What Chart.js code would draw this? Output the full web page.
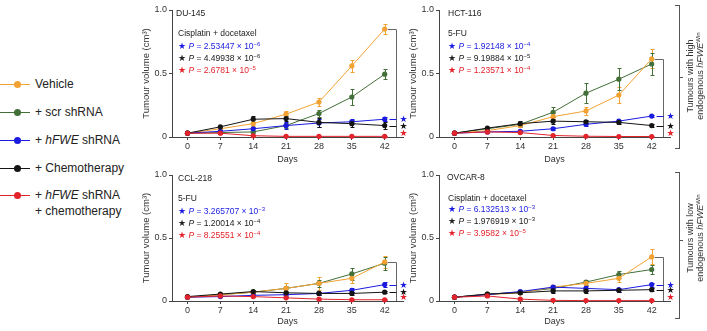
<!DOCTYPE html>
<html lang="en">
<head>
  <meta charset="UTF-8" />
  <title>Tumour volume</title>
  <script src="https://cdn.jsdelivr.net/npm/chart.js"></script>
  <style>
    html, body { margin: 0; padding: 0; background: #fff; }
    body { font-family: 'Liberation Sans', Arial, sans-serif; color: #222; }
    #wrap { position: relative; width: 707px; height: 331px; overflow: hidden; }
    canvas { position: absolute; }
    .leg { position: absolute; left: 35px; font-size: 12px; line-height: 16px; white-space: nowrap; }
    .sw { position: absolute; left: -35px; top: 8px; width: 30px; height: 1px; }
    .sw::after { content: ''; position: absolute; left: 14px; top: -3px; width: 7px; height: 7px; border-radius: 50%; background: inherit; }
    .t { position: absolute; font-size: 8.5px; line-height: 10px; white-space: nowrap; color: #222; }
    .t sup { font-size: 6px; vertical-align: 3px; line-height: 0; }
    .blue { color: #1b1be0; }
    .red { color: #e2232b; }
    .brk { position: absolute; left: 675px; width: 4px; border: 1px solid #555; border-left: none; }
    .tick { position: absolute; left: 680px; width: 3px; height: 1px; background: #555; }
    .side { position: absolute; width: 120px; font-size: 9px; line-height: 10px; text-align: center; color: #333; transform: rotate(-90deg); }
    .side sup { font-size: 6px; vertical-align: 3px; line-height: 0; }
  </style>
</head>
<body>
<div id="wrap">
  <canvas id="c1" width="270" height="165" style="left:140px;top:0"></canvas>
  <canvas id="c2" width="270" height="165" style="left:407px;top:0"></canvas>
  <canvas id="c3" width="270" height="162" style="left:140px;top:165px"></canvas>
  <canvas id="c4" width="270" height="162" style="left:407px;top:165px"></canvas>

  <!-- legende -->
  <div class="leg" style="top:76px"><span class="sw" style="background:#f2a233"></span>Vehicle</div>
  <div class="leg" style="top:104px"><span class="sw" style="background:#436f38"></span>+ scr shRNA</div>
  <div class="leg" style="top:132px"><span class="sw" style="background:#1b1be0"></span>+ <i>hFWE</i> shRNA</div>
  <div class="leg" style="top:160px"><span class="sw" style="background:#141414"></span>+ Chemotherapy</div>
  <div class="leg" style="top:187px"><span class="sw" style="background:#e2232b"></span>+ <i>hFWE</i> shRNA<br>+ chemotherapy</div>

  <!-- DU-145 -->
  <div class="t" style="left:176px;top:8px">DU-145</div>
  <div class="t" style="left:178px;top:28px">Cisplatin + docetaxel</div>
  <div class="t blue" style="left:178px;top:41px">★ <i>P</i> = 2.53447 × 10<sup>−6</sup></div>
  <div class="t" style="left:178px;top:53px">★ <i>P</i> = 4.49938 × 10<sup>−6</sup></div>
  <div class="t red" style="left:178px;top:65px">★ <i>P</i> = 2.6781 × 10<sup>−5</sup></div>

  <!-- HCT-116 -->
  <div class="t" style="left:448px;top:8px">HCT-116</div>
  <div class="t" style="left:448px;top:28px">5-FU</div>
  <div class="t blue" style="left:448px;top:41px">★ <i>P</i> = 1.92148 × 10<sup>−4</sup></div>
  <div class="t" style="left:448px;top:53px">★ <i>P</i> = 9.19884 × 10<sup>−5</sup></div>
  <div class="t red" style="left:448px;top:65px">★ <i>P</i> = 1.23571 × 10<sup>−4</sup></div>

  <!-- CCL-218 -->
  <div class="t" style="left:178px;top:173px">CCL-218</div>
  <div class="t" style="left:178px;top:193px">5-FU</div>
  <div class="t blue" style="left:178px;top:206px">★ <i>P</i> = 3.265707 × 10<sup>−3</sup></div>
  <div class="t" style="left:178px;top:218px">★ <i>P</i> = 1.20014 × 10<sup>−4</sup></div>
  <div class="t red" style="left:178px;top:230px">★ <i>P</i> = 8.25551 × 10<sup>−4</sup></div>

  <!-- OVCAR-8 -->
  <div class="t" style="left:447px;top:172px">OVCAR-8</div>
  <div class="t" style="left:448px;top:193px">Cisplatin + docetaxel</div>
  <div class="t blue" style="left:448px;top:204px">★ <i>P</i> = 6.132513 × 10<sup>−3</sup></div>
  <div class="t" style="left:448px;top:216px">★ <i>P</i> = 1.976919 × 10<sup>−3</sup></div>
  <div class="t red" style="left:448px;top:228px">★ <i>P</i> = 3.9582 × 10<sup>−5</sup></div>

  <!-- accolades a droite -->
  <div class="brk" style="top:5px;height:142px"></div>
  <div class="tick" style="top:77px"></div>
  <div class="side" style="left:635px;top:66px">Tumours with high<br>endogenous <i>hFWE</i><sup>Win</sup></div>
  <div class="brk" style="top:172px;height:145px"></div>
  <div class="tick" style="top:240px"></div>
  <div class="side" style="left:635px;top:228px">Tumours with low<br>endogenous <i>hFWE</i><sup>Win</sup></div>
</div>

<script>
  const days = [0, 7, 14, 21, 28, 35, 42];
  const seriesNames = ['Vehicle', '+ scr shRNA', '+ hFWE shRNA', '+ Chemotherapy', '+ hFWE shRNA + chemotherapy'];
  const colors = ['#f2a233', '#436f38', '#1b1be0', '#141414', '#e2232b'];
  const yTicks = [0, 0.5, 1.0];

  // DU-145
  const du145Vehicle = [0.03, 0.065, 0.105, 0.18, 0.275, 0.56, 0.85];
  const du145Scr     = [0.03, 0.035, 0.04, 0.09, 0.185, 0.315, 0.495];
  const du145Shrna   = [0.03, 0.045, 0.065, 0.09, 0.11, 0.12, 0.14];
  const du145Chemo   = [0.03, 0.08, 0.14, 0.145, 0.115, 0.105, 0.09];
  const du145Combo   = [0.03, 0.03, 0.01, 0.005, 0.005, 0.005, 0.005];
  const du145VehicleErr = [0.005, 0.01, 0.015, 0.025, 0.03, 0.045, 0.04];
  const du145ScrErr     = [0.005, 0.01, 0.01, 0.02, 0.03, 0.065, 0.04];
  const du145ShrnaErr   = [0.005, 0.01, 0.015, 0.03, 0.03, 0.02, 0.015];
  const du145ChemoErr   = [0.005, 0.01, 0.025, 0.02, 0.035, 0.03, 0.025];
  const du145ComboErr   = [0.005, 0.01, 0.005, 0.003, 0.003, 0.003, 0.003];

  // HCT-116
  const hctVehicle = [0.03, 0.05, 0.09, 0.16, 0.205, 0.33, 0.615];
  const hctScr     = [0.03, 0.065, 0.1, 0.195, 0.345, 0.455, 0.575];
  const hctShrna   = [0.03, 0.04, 0.045, 0.065, 0.1, 0.125, 0.165];
  const hctChemo   = [0.03, 0.07, 0.105, 0.125, 0.12, 0.115, 0.09];
  const hctCombo   = [0.03, 0.04, 0.035, 0.012, 0.006, 0.004, 0.004];
  const hctVehicleErr = [0.005, 0.01, 0.015, 0.03, 0.03, 0.06, 0.075];
  const hctScrErr     = [0.005, 0.01, 0.02, 0.04, 0.08, 0.085, 0.09];
  const hctShrnaErr   = [0.005, 0.005, 0.01, 0.01, 0.01, 0.01, 0.01];
  const hctChemoErr   = [0.005, 0.01, 0.02, 0.02, 0.015, 0.015, 0.015];
  const hctComboErr   = [0.005, 0.005, 0.005, 0.003, 0.003, 0.003, 0.003];

  // CCL-218
  const cclVehicle = [0.03, 0.05, 0.07, 0.1, 0.14, 0.18, 0.31];
  const cclScr     = [0.03, 0.05, 0.07, 0.1, 0.14, 0.215, 0.3];
  const cclShrna   = [0.03, 0.035, 0.045, 0.05, 0.06, 0.085, 0.13];
  const cclChemo   = [0.035, 0.055, 0.075, 0.065, 0.06, 0.06, 0.07];
  const cclCombo   = [0.03, 0.04, 0.035, 0.025, 0.015, 0.01, 0.01];
  const cclVehicleErr = [0.005, 0.01, 0.01, 0.045, 0.05, 0.04, 0.045];
  const cclScrErr     = [0.005, 0.01, 0.01, 0.02, 0.03, 0.045, 0.05];
  const cclShrnaErr   = [0.005, 0.005, 0.01, 0.01, 0.01, 0.015, 0.02];
  const cclChemoErr   = [0.005, 0.01, 0.01, 0.01, 0.01, 0.01, 0.01];
  const cclComboErr   = [0.005, 0.005, 0.005, 0.005, 0.005, 0.003, 0.003];

  // OVCAR-8
  const ovcVehicle = [0.03, 0.05, 0.065, 0.11, 0.14, 0.18, 0.35];
  const ovcScr     = [0.03, 0.055, 0.07, 0.1, 0.15, 0.21, 0.25];
  const ovcShrna   = [0.03, 0.05, 0.075, 0.11, 0.1, 0.09, 0.13];
  const ovcChemo   = [0.03, 0.055, 0.065, 0.08, 0.08, 0.085, 0.09];
  const ovcCombo   = [0.03, 0.04, 0.015, 0.005, 0.003, 0.003, 0.003];
  const ovcVehicleErr = [0.005, 0.01, 0.01, 0.02, 0.02, 0.03, 0.06];
  const ovcScrErr     = [0.005, 0.01, 0.01, 0.02, 0.02, 0.025, 0.035];
  const ovcShrnaErr   = [0.005, 0.01, 0.01, 0.02, 0.02, 0.015, 0.015];
  const ovcChemoErr   = [0.005, 0.01, 0.01, 0.02, 0.02, 0.01, 0.01];
  const ovcComboErr   = [0.005, 0.005, 0.005, 0.003, 0.003, 0.003, 0.003];

  Chart.defaults.font.family = "'Liberation Sans', Arial, sans-serif";
  Chart.defaults.color = '#333';

  // barres d'erreur (sous les points)
  const errorBars = {
    id: 'errorBars',
    beforeDatasetsDraw(chart) {
      const ctx = chart.ctx, ys = chart.scales.y;
      chart.data.datasets.forEach((ds, i) => {
        const meta = chart.getDatasetMeta(i);
        ctx.save();
        ctx.strokeStyle = ds.borderColor;
        ctx.lineWidth = 1;
        meta.data.forEach((pt, j) => {
          const v = ds.data[j].y, e = ds.errors[j];
          const top = Math.round(ys.getPixelForValue(v + e)) + 0.5;
          const bot = Math.round(ys.getPixelForValue(Math.max(0, v - e))) + 0.5;
          const x = Math.round(pt.x) + 0.5;
          ctx.beginPath();
          ctx.moveTo(x, top); ctx.lineTo(x, bot);
          ctx.moveTo(x - 2, top); ctx.lineTo(x + 2, top);
          ctx.moveTo(x - 2, bot); ctx.lineTo(x + 2, bot);
          ctx.stroke();
        });
        ctx.restore();
      });
    }
  };

  // crochet de comparaison a J42 + etoiles
  const bracket = {
    id: 'bracket',
    afterDatasetsDraw(chart) {
      const ctx = chart.ctx, xs = chart.scales.x, ys = chart.scales.y;
      const last = days.length - 1;
      const x42 = xs.getPixelForValue(days[last]);
      const bx = Math.round(x42 + 11) + 0.5;
      const yAt = i => Math.round(ys.getPixelForValue(chart.data.datasets[i].data[last].y)) + 0.5;
      ctx.save();
      ctx.lineWidth = 1;
      ctx.strokeStyle = '#666';
      ctx.beginPath();
      ctx.moveTo(x42 + 3, yAt(0));
      ctx.lineTo(bx, yAt(0));
      ctx.lineTo(bx, ys.getPixelForValue(0));
      ctx.stroke();
      [2, 3].forEach(i => {
        ctx.strokeStyle = colors[i];
        ctx.beginPath();
        ctx.moveTo(bx - 7, yAt(i));
        ctx.lineTo(bx, yAt(i));
        ctx.stroke();
      });
      ctx.font = "9px 'DejaVu Sans'";
      ctx.textAlign = 'center';
      ctx.textBaseline = 'middle';
      [2, 3, 4].forEach(i => {
        ctx.fillStyle = colors[i];
        ctx.fillText('★', bx + 7, Math.min(yAt(i), ys.getPixelForValue(0) - 3));
      });
      ctx.restore();
    }
  };

  function makeChart(id, values, errors, axisHeight) {
    new Chart(document.getElementById(id), {
      type: 'line',
      data: {
        datasets: values.map((vals, i) => ({
          label: seriesNames[i],
          data: days.map((d, j) => ({ x: d, y: vals[j] })),
          errors: errors[i],
          borderColor: colors[i],
          backgroundColor: colors[i],
          borderWidth: 1,
          pointRadius: 2.6,
          pointBorderWidth: 0,
          tension: 0,
          clip: false,
          order: i === 4 ? 0 : i === 3 ? 1 : i === 2 ? 2 : i === 0 ? 3 : 4
        }))
      },
      options: {
        responsive: false,
        animation: false,
        layout: { padding: { top: 10, right: 7, left: 0, bottom: 0 } },
        plugins: { legend: { display: false }, tooltip: { enabled: false } },
        scales: {
          x: {
            type: 'linear',
            min: -3.3,
            max: 45.9,
            afterBuildTicks: s => { s.ticks = days.map(v => ({ value: v })); },
            afterFit: s => { s.height = axisHeight; },
            ticks: { font: { size: 9 }, padding: 1, color: '#333', callback: v => String(v) },
            grid: { drawOnChartArea: false, drawTicks: true, tickLength: 3, color: '#444' },
            border: { display: true, color: '#444', width: 1 },
            title: { display: true, text: 'Days', font: { size: 9 }, color: '#333', padding: { top: 0, bottom: 0 } }
          },
          y: {
            min: 0,
            max: 1,
            afterBuildTicks: s => { s.ticks = yTicks.map(v => ({ value: v })); },
            afterFit: s => { s.width = 32; },
            ticks: { font: { size: 9 }, padding: 2, color: '#333', callback: v => v === 0 ? '0' : v.toFixed(1) },
            grid: { drawOnChartArea: false, drawTicks: true, tickLength: 3, color: '#444' },
            border: { display: true, color: '#444', width: 1 },
            title: { display: true, text: 'Tumour volume (cm³)', font: { size: 9.5 }, color: '#333', padding: { top: 1, bottom: 0 } }
          }
        }
      },
      plugins: [errorBars, bracket]
    });
  }

  makeChart('c1',
    [du145Vehicle, du145Scr, du145Shrna, du145Chemo, du145Combo],
    [du145VehicleErr, du145ScrErr, du145ShrnaErr, du145ChemoErr, du145ComboErr], 28);
  makeChart('c2',
    [hctVehicle, hctScr, hctShrna, hctChemo, hctCombo],
    [hctVehicleErr, hctScrErr, hctShrnaErr, hctChemoErr, hctComboErr], 28);
  makeChart('c3',
    [cclVehicle, cclScr, cclShrna, cclChemo, cclCombo],
    [cclVehicleErr, cclScrErr, cclShrnaErr, cclChemoErr, cclComboErr], 26);
  makeChart('c4',
    [ovcVehicle, ovcScr, ovcShrna, ovcChemo, ovcCombo],
    [ovcVehicleErr, ovcScrErr, ovcShrnaErr, ovcChemoErr, ovcComboErr], 26);
</script>
</body>
</html>
